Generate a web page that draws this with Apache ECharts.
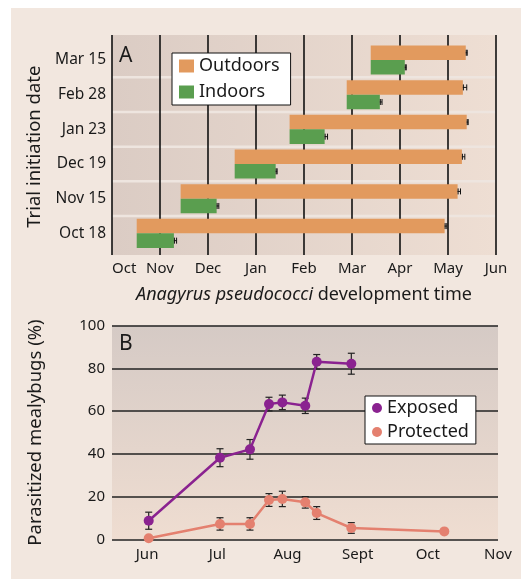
<!DOCTYPE html>
<html><head><meta charset="utf-8">
<script src="https://cdn.jsdelivr.net/npm/echarts@6/dist/echarts.min.js"></script>
<style>html,body{margin:0;padding:0;background:#fff}#c{width:521px;height:579px}</style>
</head><body><div id="c"></div>
<script>
// Panel A data (x in months after Oct 1)
const trialDates = ['Oct 18','Nov 15','Dec 19','Jan 23','Feb 28','Mar 15'];
const monthsA = ['Oct','Nov','Dec','Jan','Feb','Mar','Apr','May','Jun'];
const trialStart = [0.515, 1.43, 2.556, 3.70, 4.89, 5.39];
const outdoorEnd = [6.93, 7.20, 7.29, 7.39, 7.31, 7.37];
const outdoorErr = [0.035, 0.05, 0.05, 0.02, 0.07, 0.02];
const indoorEnd = [1.29, 2.18, 3.41, 4.43, 5.58, 6.10];
const indoorErr = [0.045, 0.035, 0.02, 0.05, 0.035, 0.02];
// Panel B data (x in months after Jun 1)
const monthsB = ['Jun','Jul','Aug','Sept','Oct','Nov'];
const sampleTime = [0.023, 1.039, 1.466, 1.737, 1.927, 2.254, 2.417, 2.910, 4.235];
const exposedPct = [8.7, 38.2, 42.1, 63.3, 64.1, 62.5, 83.1, 82.2];
const exposedErr = [4.0, 4.2, 4.6, 3.2, 3.4, 3.6, 3.4, 4.9];
const protectedPct = [0.5, 7.2, 7.2, 18.4, 18.9, 17.3, 12.3, 5.3, 3.7];
const protectedErr = [0, 2.9, 2.9, 3.0, 3.6, 2.7, 3.0, 2.5, 0];

const FONT = 'Noto Sans';
const C_OUT = '#E29A5E', C_IN = '#5A9E4F', C_EXP = '#8A2290', C_PRO = '#E4806F';

const outData = trialDates.map((d, i) => [i, trialStart[i], outdoorEnd[i], outdoorErr[i]]);
const inData = trialDates.map((d, i) => [i, trialStart[i], indoorEnd[i], indoorErr[i]]);
const sepData = trialDates.slice(0, -1).map((d, i) => [i, 0]);
const expData = exposedPct.map((v, i) => [sampleTime[i], v]);
const proData = protectedPct.map((v, i) => [sampleTime[i], v]);
const expErrData = exposedPct.map((v, i) => [sampleTime[i], v, exposedErr[i]]);
const proErrData = protectedPct.map((v, i) => [sampleTime[i], v, protectedErr[i]]).filter(d => d[2] > 0);

function barRender(upper, color) {
  return function (params, api) {
    const cat = api.value(0), s = api.value(1), e = api.value(2), err = api.value(3);
    const p0 = api.coord([s, cat]), p1 = api.coord([e, cat]);
    const pe = api.coord([e + err, cat])[0];
    const h = api.size([0, 1])[1] * 0.42;
    const y0 = upper ? p0[1] - h : p0[1];
    const yc = y0 + h / 2;
    const ls = { stroke: '#111', lineWidth: 1 };
    return { type: 'group', children: [
      { type: 'rect', shape: { x: p0[0], y: y0, width: p1[0] - p0[0], height: h }, style: { fill: color } },
      { type: 'line', shape: { x1: p1[0], y1: yc, x2: pe + 0.5, y2: yc }, style: ls },
      { type: 'line', shape: { x1: p1[0] + 0.5, y1: yc - 3, x2: p1[0] + 0.5, y2: yc + 3 }, style: ls },
      { type: 'line', shape: { x1: pe + 0.5, y1: yc - 3, x2: pe + 0.5, y2: yc + 3 }, style: ls }
    ]};
  };
}
function sepRender(params, api) {
  const i = api.value(0);
  const band = api.size([0, 1])[1];
  const a = api.coord([0, i]), b = api.coord([8, i]);
  const y = a[1] - band / 2;
  return { type: 'line', shape: { x1: a[0], y1: y, x2: b[0], y2: y }, style: { stroke: '#EEE5DF', lineWidth: 2.5 } };
}
function errRender(params, api) {
  const x = api.value(0), v = api.value(1), e = api.value(2);
  const top = api.coord([x, v + e]), bot = api.coord([x, v - e]);
  const ls = { stroke: '#222', lineWidth: 1.2 };
  return { type: 'group', children: [
    { type: 'line', shape: { x1: top[0], y1: top[1], x2: bot[0], y2: bot[1] }, style: ls },
    { type: 'line', shape: { x1: top[0] - 3.5, y1: top[1], x2: top[0] + 3.5, y2: top[1] }, style: ls },
    { type: 'line', shape: { x1: bot[0] - 3.5, y1: bot[1], x2: bot[0] + 3.5, y2: bot[1] }, style: ls }
  ]};
}

const chart = echarts.init(document.getElementById('c'), null, { renderer: 'canvas' });
const txt = { fontFamily: FONT, color: '#1a1a1a' };
chart.setOption({
  backgroundColor: '#F2E7DF',
  animation: false,
  textStyle: { fontFamily: FONT },
  graphic: [
    { type: 'rect', left: 0, top: 0, shape: { width: 521, height: 8 }, style: { fill: '#fff' }, z: 100 },
    { type: 'rect', left: 0, top: 0, shape: { width: 11, height: 579 }, style: { fill: '#fff' }, z: 100 },
    { type: 'text', left: 119, top: 46, style: { text: 'A', font: '21px "Noto Sans"', fill: '#1a1a1a' }, z: 100 },
    { type: 'text', left: 119, top: 334, style: { text: 'B', font: '21px "Noto Sans"', fill: '#1a1a1a' }, z: 100 }
  ],
  grid: [
    { left: 112, top: 35, width: 384, height: 220, show: true, borderWidth: 0,
      backgroundColor: { type: 'linear', x: 0, y: 0, x2: 1, y2: 0, colorStops: [{ offset: 0, color: '#DBCCC4' }, { offset: 1, color: '#EEDED3' }] } },
    { left: 112, top: 42.7, width: 384, height: 208 },
    { left: 112, top: 325.7, width: 386, height: 213.6, show: true, borderWidth: 0,
      backgroundColor: { type: 'linear', x: 0, y: 0, x2: 0, y2: 1, colorStops: [{ offset: 0, color: '#D5CAC5' }, { offset: 1, color: '#EFDDD1' }] } }
  ],
  xAxis: [
    { gridIndex: 0, type: 'value', min: 0, max: 8, interval: 1, z: 2,
      axisLine: { show: false }, axisTick: { show: false },
      splitLine: { show: true, lineStyle: { color: '#111', width: 1.6 } },
      axisLabel: { ...txt, fontSize: 15, margin: 6, alignMinLabel: 'left', formatter: v => monthsA[v] },
      name: '{i|Anagyrus pseudococci} development time', nameLocation: 'middle', nameGap: 31,
      nameTextStyle: { ...txt, fontSize: 18, rich: { i: { ...txt, fontSize: 18, fontStyle: 'italic' } } } },
    { gridIndex: 1, type: 'value', min: 0, max: 8, show: false },
    { gridIndex: 2, type: 'value', min: -0.5, max: 5,
      axisLine: { show: false }, axisTick: { show: false }, splitLine: { show: false },
      axisLabel: { ...txt, fontSize: 15, margin: 8, customValues: [0, 1, 2, 3, 4, 5], formatter: v => monthsB[Math.round(v)] } }
  ],
  yAxis: [
    { gridIndex: 0, type: 'value', min: 0, max: 1, show: false },
    { gridIndex: 1, type: 'category', data: trialDates,
      axisLine: { show: false }, axisTick: { show: false }, splitLine: { show: false },
      axisLabel: { ...txt, fontSize: 15.5, margin: 6 },
      name: 'Trial initiation date', nameLocation: 'middle', nameGap: 67,
      nameTextStyle: { ...txt, fontSize: 18.5 } },
    { gridIndex: 2, type: 'value', min: 0, max: 100, interval: 20,
      axisLine: { show: false }, axisTick: { show: false },
      splitLine: { show: true, lineStyle: { color: '#222', width: 1.6 } },
      axisLabel: { ...txt, fontSize: 15, margin: 7 },
      name: 'Parasitized mealybugs (%)', nameLocation: 'middle', nameGap: 67,
      nameTextStyle: { ...txt, fontSize: 18.5 } }
  ],
  legend: [
    { left: 172, top: 53, orient: 'vertical', data: ['Outdoors', 'Indoors'],
      itemWidth: 15, itemHeight: 13, itemGap: 8, padding: [4, 11, 4, 7],
      backgroundColor: '#fff', borderColor: '#111', borderWidth: 1, borderRadius: 0,
      textStyle: { ...txt, fontSize: 18 }, icon: 'rect' },
    { left: 365, top: 396, orient: 'vertical', data: ['Exposed', 'Protected'],
      itemWidth: 10, itemHeight: 10, itemGap: 6, padding: [3, 7, 3, 7],
      backgroundColor: '#fff', borderColor: '#111', borderWidth: 1, borderRadius: 0,
      textStyle: { ...txt, fontSize: 18 }, icon: 'circle' }
  ],
  series: [
    { type: 'custom', name: 'sep', xAxisIndex: 1, yAxisIndex: 1, z: 1, silent: true,
      renderItem: sepRender, data: sepData, encode: { x: 1, y: 0 } },
    { type: 'custom', name: 'Outdoors', xAxisIndex: 1, yAxisIndex: 1, z: 3,
      itemStyle: { color: C_OUT }, renderItem: barRender(true, C_OUT), data: outData, encode: { x: [1, 2], y: 0 } },
    { type: 'custom', name: 'Indoors', xAxisIndex: 1, yAxisIndex: 1, z: 3,
      itemStyle: { color: C_IN }, renderItem: barRender(false, C_IN), data: inData, encode: { x: [1, 2], y: 0 } },
    { type: 'custom', name: 'expErr', xAxisIndex: 2, yAxisIndex: 2, z: 3,
      renderItem: errRender, data: expErrData, encode: { x: 0, y: 1 } },
    { type: 'custom', name: 'proErr', xAxisIndex: 2, yAxisIndex: 2, z: 3,
      renderItem: errRender, data: proErrData, encode: { x: 0, y: 1 } },
    { type: 'line', name: 'Protected', xAxisIndex: 2, yAxisIndex: 2, z: 4, data: proData,
      symbol: 'circle', symbolSize: 10, itemStyle: { color: C_PRO }, lineStyle: { color: C_PRO, width: 2.5 } },
    { type: 'line', name: 'Exposed', xAxisIndex: 2, yAxisIndex: 2, z: 5, data: expData,
      symbol: 'circle', symbolSize: 10, itemStyle: { color: C_EXP }, lineStyle: { color: C_EXP, width: 2.5 } }
  ]
});
</script></body></html>
